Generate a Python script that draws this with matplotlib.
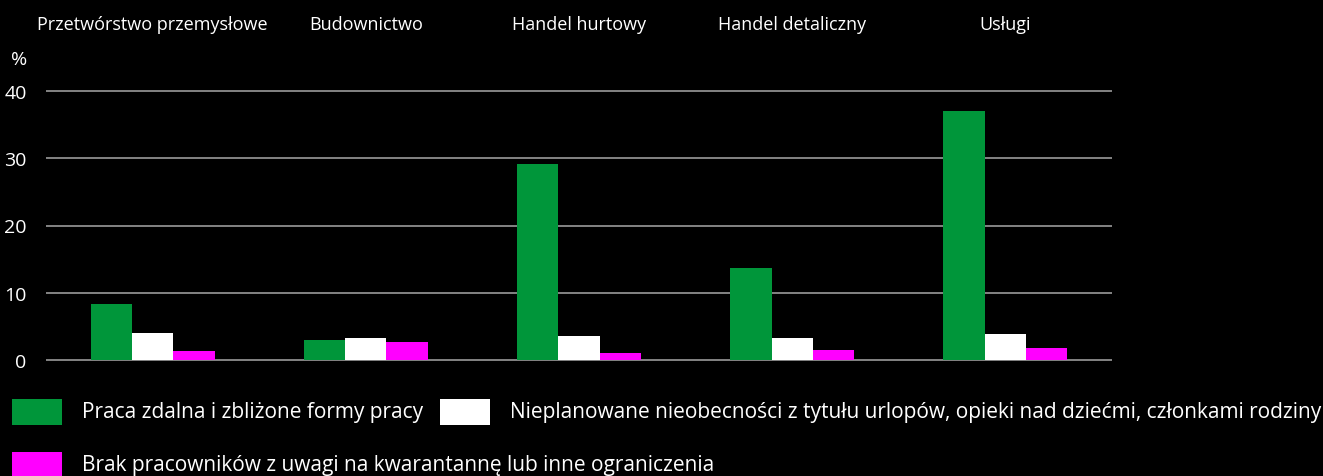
import matplotlib
matplotlib.use("Agg")
import matplotlib.pyplot as plt
import matplotlib.transforms as mtrans
from matplotlib.patches import Rectangle
import numpy as np

categories = ["Przetwórstwo przemysłowe", "Budownictwo", "Handel hurtowy",
              "Handel detaliczny", "Usługi"]
series_names = ["Praca zdalna i zbliżone formy pracy",
                "Nieplanowane nieobecności z tytułu urlopów, opieki nad dziećmi, członkami rodziny",
                "Brak pracowników z uwagi na kwarantannę lub inne ograniczenia"]
remote = [8.4, 2.9, 29.1, 13.7, 37.1]
absences = [4.0, 3.3, 3.5, 3.2, 3.8]
quarantine = [1.3, 2.7, 1.1, 1.5, 1.8]
yticks = [0, 10, 20, 30, 40]
colors = ["#00963a", "#ffffff", "#ff00ff"]

plt.rcParams['font.family'] = ['Open Sans', 'DejaVu Sans']

W, H = 1323, 477
fig = plt.figure(figsize=(W / 100, H / 100), dpi=100)
fig.patch.set_facecolor("black")

def fx(px):
    return px / W

def fy(py):
    return 1 - py / H

ax_left, ax_right = 46, 1112
ax_top, ax_bot = 90, 363
ax = fig.add_axes([fx(ax_left), fy(ax_bot), fx(ax_right - ax_left), (ax_bot - ax_top) / H])
ax.set_facecolor("black")

x = np.arange(len(categories))
bw = 0.194
for i, (vals, c) in enumerate(zip([remote, absences, quarantine], colors)):
    ax.bar(x + (i - 1) * bw, vals, width=bw, color=c, zorder=3, linewidth=0)

ax.set_xlim(-0.5, len(categories) - 0.5)
ax.set_ylim(-0.3, 40.3)
ax.set_yticks(yticks)
ax.set_yticklabels([str(v) for v in yticks], color="white", fontsize=14)
ax.tick_params(axis="y", length=0, pad=14)
ax.set_xticks([])
ax.grid(axis="y", color="#9a9a9a", linewidth=1.2, zorder=0)
for s in ax.spines.values():
    s.set_visible(False)

# category labels on top
blend = mtrans.blended_transform_factory(ax.transData, fig.transFigure)
for xi, cat in zip(x, categories):
    ax.text(xi, fy(25), cat, transform=blend,
            ha="center", va="center", color="white", fontsize=13)

fig.text(fx(19), fy(60), "%", ha="center", va="center", color="white", fontsize=14)

# legend
leg = [(12, 400, 0), (440, 400, 1), (12, 453, 2)]
for lx, ly, k in leg:
    fig.patches.append(Rectangle((fx(lx), fy(ly + 26)), fx(50), 26 / H,
                                 transform=fig.transFigure, facecolor=colors[k],
                                 edgecolor="none"))
    fig.text(fx(lx + 70), fy(ly + 13), series_names[k], ha="left", va="center",
             color="white", fontsize=15)

fig.savefig("out.png", dpi=100, facecolor="black")
